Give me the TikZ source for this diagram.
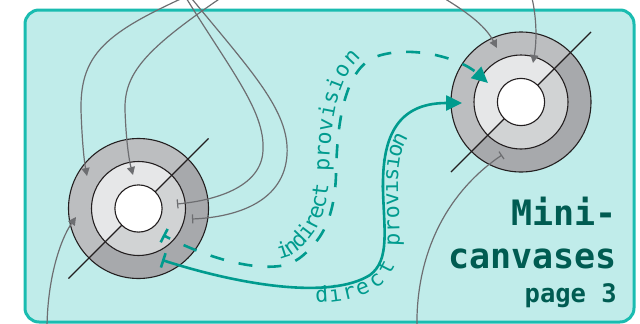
\documentclass[tikz,border=0pt]{standalone}
\usepackage{fontspec}
\newfontfamily\provfont{DejaVu Sans Mono}
\newfontfamily\titlefont{DejaVu Sans Mono}
\usetikzlibrary{arrows.meta,decorations.text}

\definecolor{canvasfill}{HTML}{C0ECEA}
\definecolor{canvasline}{HTML}{1ABCB0}
\definecolor{provteal}{HTML}{009B8E}
\definecolor{titleteal}{HTML}{005C52}
\definecolor{wiregray}{HTML}{6D6E71}
\definecolor{outerlight}{HTML}{BCBEC0}
\definecolor{outerdark}{HTML}{A7A9AC}
\definecolor{midlight}{HTML}{E6E7E8}
\definecolor{middark}{HTML}{D1D3D4}
\definecolor{ringline}{HTML}{231F20}

\begin{document}
\begin{tikzpicture}[x=1pt,y=-1pt,
  ring/.style={draw=ringline,line width=1.1pt},
  wire/.style={draw=wiregray,line width=1.2pt},
  wirein/.style={wire,-{Triangle[length=8pt,width=8pt]}},
  wireend/.style={wire,-{Bar[width=9pt]}},
  prov/.style={draw=provteal,line width=2.6pt,{Bar[width=15pt]}-{Triangle[length=16pt,width=15pt]}},
  title/.style={text=titleteal,inner sep=0pt,anchor=base east,font=\titlefont\bfseries\fontsize{35}{40}\selectfont}]
\useasboundingbox (0,0) rectangle (640,324);

% background canvas
\draw[canvasline,fill=canvasfill,line width=3pt,rounded corners=14pt] (25,10) rectangle (634,322);

% left mini-canvas
\coordinate (lc) at (138.5,208.5);
\fill[outerlight] (lc) -- ++(135:70) arc[start angle=135,end angle=315,radius=70] -- cycle;
\fill[outerdark] (lc) -- ++(315:70) arc[start angle=315,end angle=495,radius=70] -- cycle;
\fill[midlight] (lc) -- ++(135:47) arc[start angle=135,end angle=315,radius=47] -- cycle;
\fill[middark] (lc) -- ++(315:47) arc[start angle=315,end angle=495,radius=47] -- cycle;
\draw[ring] (lc) ++(135:99) -- ++(315:198);
\draw[ring,fill=white] (lc) circle[radius=23.6];
\draw[ring] (lc) circle[radius=47] (lc) circle[radius=70];

% right mini-canvas
\coordinate (rc) at (521,102);
\fill[outerlight] (rc) -- ++(135:70) arc[start angle=135,end angle=315,radius=70] -- cycle;
\fill[outerdark] (rc) -- ++(315:70) arc[start angle=315,end angle=495,radius=70] -- cycle;
\fill[midlight] (rc) -- ++(135:47) arc[start angle=135,end angle=315,radius=47] -- cycle;
\fill[middark] (rc) -- ++(315:47) arc[start angle=315,end angle=495,radius=47] -- cycle;
\draw[ring] (rc) ++(135:99) -- ++(315:198);
\draw[ring,fill=white] (rc) circle[radius=23.6];
\draw[ring] (rc) circle[radius=47] (rc) circle[radius=70];

% wire ends
\coordinate (topA) at (205,-12);
\coordinate (topB) at (240,-15);
\coordinate (topC) at (180,-12);
\coordinate (topD) at (183,-12);
\coordinate (botL) at (47,330);
\coordinate (topE) at (430,-10);
\coordinate (topF) at (530,-10);
\coordinate (botR) at (417,330);
\coordinate (lc-outin) at (87,176);
\coordinate (lc-midin) at (133,175);
\coordinate (lc-midout) at (177,204);
\coordinate (lc-outout) at (192,219);
\coordinate (lc-lowin) at (76,217);
\coordinate (rc-outin) at (497,48);
\coordinate (rc-midin) at (533,63);
\coordinate (rc-outout) at (502,155);

\draw[wirein] (topA) .. controls (110,30) and (80,50) .. (81,110) .. controls (82,140) and (84,160) .. (lc-outin);
\draw[wirein] (topB) .. controls (150,45) and (124,70) .. (125,110) .. controls (126,140) and (129,160) .. (lc-midin);
\draw[wireend] (topC) .. controls (230,70) and (265,110) .. (263,150) .. controls (262,185) and (220,200) .. (lc-midout);
\draw[wireend] (topD) .. controls (250,70) and (290,110) .. (287,155) .. controls (284,200) and (240,217) .. (lc-outout);
\draw[wirein] (botL) .. controls (47,280) and (60,240) .. (lc-lowin);
\draw[wirein] (topE) .. controls (465,10) and (485,25) .. (rc-outin);
\draw[wirein] (topF) .. controls (537,15) and (537,40) .. (rc-midin);
\draw[wireend] (botR) .. controls (415,250) and (450,190) .. (rc-outout);

% provisions
\coordinate (lc-indirect) at (163,235);
\coordinate (lc-direct) at (162,260);
\coordinate (rc-indirect) at (488,83);
\coordinate (rc-direct) at (462,103);

\draw[prov,dash pattern=on 14pt off 15pt,dash phase=8pt,
  postaction={decorate,decoration={text along path,raise=7pt,text align={left indent=124pt},
    text={|\provfont\fontsize{21.6}{24}\selectfont\color{provteal}|indirect provision}}}]
  (lc-indirect) .. controls (205,257) and (250,270) .. (280,266)
  .. controls (295,264) and (305,255) .. (315,243)
  .. controls (328,228) and (335,205) .. (336,175)
  .. controls (337,120) and (345,70) .. (375,57)
  .. controls (410,44) and (460,58) .. (rc-indirect);

\draw[prov,
  postaction={decorate,decoration={text along path,raise=-15pt,text align={left indent=156pt},
    text={|\provfont\fontsize{21.6}{24}\selectfont\color{provteal}|direct provision}}}]
  (lc-direct) .. controls (240,285) and (330,300) .. (370,275)
  .. controls (390,260) and (384,230) .. (383,190)
  .. controls (382,140) and (395,103) .. (rc-direct);

% title
\node[title] (minitop) at (617,225) {Mini-};
\node[title] (minibot) at (617,268) {canvases};
\node[title,font=\titlefont\bfseries\fontsize{25.5}{30}\selectfont] (pagenum) at (617,302) {page 3};

\end{tikzpicture}
\end{document}
